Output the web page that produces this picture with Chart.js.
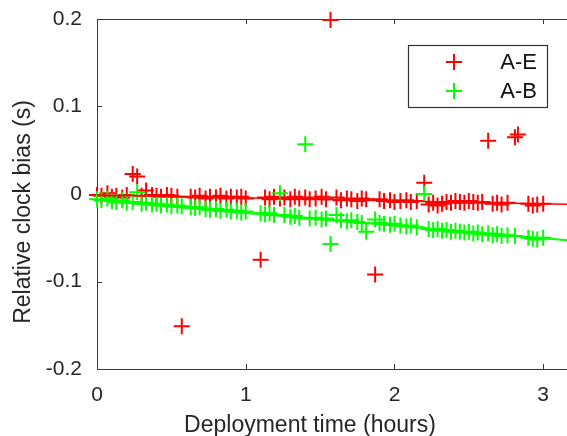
<!DOCTYPE html>
<html>
<head>
<meta charset="utf-8">
<script src="https://cdn.jsdelivr.net/npm/chart.js@4/dist/chart.umd.min.js"></script>
<style>
  html, body { margin: 0; padding: 0; background: #fff; overflow: hidden; }
  #wrap { width: 567px; height: 436px; }
</style>
</head>
<body>
<div id="wrap"><canvas id="biasChart" width="567" height="436"></canvas></div>
<script>
// deployment time of each sample (hours)
const times = [
  0.00, 0.03, 0.07, 0.10, 0.13, 0.17, 0.20, 0.24, 0.27, 0.30, 0.33, 0.37, 0.40, 0.43, 0.47, 0.50, 0.54, 0.57,
  0.63, 0.66, 0.69, 0.73, 0.76, 0.80, 0.83, 0.87, 0.90, 0.94, 0.97, 1.00,
  1.10, 1.13, 1.16, 1.19, 1.23, 1.26, 1.30, 1.33, 1.36, 1.40, 1.43, 1.47, 1.51, 1.54, 1.57, 1.61, 1.64, 1.68, 1.71, 1.75, 1.78, 1.81,
  1.87, 1.90, 1.93, 1.97, 2.00, 2.04, 2.08, 2.11, 2.15, 2.20, 2.23, 2.26, 2.29, 2.32, 2.35, 2.38, 2.41, 2.44, 2.47, 2.50, 2.53, 2.56, 2.59, 2.63, 2.66, 2.69, 2.72, 2.76,
  2.81, 2.83, 2.90, 2.93, 2.96, 3.00
];

// relative clock bias A-E (s)
const biasAE = [
  -0.001, -0.002, 0.001, -0.003, -0.002, -0.004, -0.001, 0.023, 0.020, -0.002, 0.004, -0.001, -0.002, -0.003, -0.001, -0.002, -0.003, -0.151,
  -0.003, -0.004, -0.002, -0.005, -0.003, -0.004, -0.002, -0.005, -0.003, -0.004, -0.003, -0.005,
  -0.075, -0.004, -0.006, -0.003, -0.005, -0.004, -0.006, -0.003, -0.005, -0.004, -0.006, -0.005, -0.003, -0.006, 0.199, -0.004, -0.007, -0.005, -0.006, -0.008, -0.005, -0.006,
  -0.092, -0.006, -0.008, -0.007, -0.009, -0.008, -0.007, -0.009, -0.008, 0.013, -0.012, -0.010, -0.013, -0.011, -0.009, -0.010, -0.008, -0.009, -0.010, -0.008, -0.009, -0.010, -0.009, 0.061, -0.011, -0.010, -0.012, -0.010,
  0.065, 0.068, -0.011, -0.013, -0.012, -0.011
];

// relative clock bias A-B (s)
const biasAB = [
  -0.006, -0.007, -0.005, -0.008, -0.009, -0.007, -0.010, -0.009, 0.002, -0.011, -0.010, -0.012, -0.011, -0.013, -0.012, -0.014, -0.013, -0.014,
  -0.015, -0.016, -0.015, -0.017, -0.018, -0.017, -0.019, -0.018, -0.020, -0.019, -0.021, -0.020,
  -0.022, -0.023, -0.022, -0.024, 0.001, -0.024, -0.026, -0.025, -0.027, 0.057, -0.028, -0.027, -0.029, -0.028, -0.057, -0.024, -0.030, -0.031, -0.030, -0.032, -0.033, -0.043,
  -0.029, -0.033, -0.034, -0.035, -0.034, -0.036, -0.037, -0.036, -0.038, 0.000, -0.040, -0.041, -0.040, -0.042, -0.041, -0.043, -0.042, -0.043, -0.044, -0.043, -0.045, -0.044, -0.046, -0.045, -0.047, -0.046, -0.048, -0.047,
  -0.048, null, -0.050, -0.051, -0.052, -0.050
];

// linear fits (end points)
const fitX = [0, 3.2];
const fitAE = [-0.001, -0.0118];
const fitAB = [-0.007, -0.0535];

const seriesLabels = ['A-E', 'A-B'];
const seriesColors = ['#ff0000', '#00ff00'];

const xTicks = [0, 1, 2, 3];
const yTicks = [-0.2, -0.1, 0, 0.1, 0.2];
const yTickLabels = ['-0.2', '-0.1', '0', '0.1', '0.2'];

const xTitle = 'Deployment time (hours)';
const yTitle = 'Relative clock bias (s)';

const FONT = '"Liberation Sans", Arial, sans-serif';
const AXIS = '#3a3a3a';

function toPoints(xs, ys) {
  return xs.map((x, i) => ({ x: x, y: ys[i] }));
}

// box round the plot with inward ticks, like the octave style
const boxPlugin = {
  id: 'box',
  beforeDatasetsDraw(chart) {
    const { ctx, chartArea: a, scales } = chart;
    ctx.save();
    ctx.strokeStyle = AXIS;
    ctx.lineWidth = 1;
    ctx.beginPath();
    ctx.moveTo(a.right + 2, a.top + 0.5);
    ctx.lineTo(a.left + 0.5, a.top + 0.5);
    ctx.lineTo(a.left + 0.5, a.bottom + 0.5);
    ctx.lineTo(a.right + 2, a.bottom + 0.5);
    xTicks.forEach(v => {
      const px = Math.round(scales.x.getPixelForValue(v)) + 0.5;
      ctx.moveTo(px, a.bottom);
      ctx.lineTo(px, a.bottom - 5);
      ctx.moveTo(px, a.top);
      ctx.lineTo(px, a.top + 5);
    });
    yTicks.forEach(v => {
      const py = Math.round(scales.y.getPixelForValue(v)) + 0.5;
      ctx.moveTo(a.left, py);
      ctx.lineTo(a.left + 5, py);
    });
    ctx.stroke();
    ctx.restore();
  },
  afterDraw(chart) {
    const ctx = chart.ctx;
    ctx.save();
    ctx.fillStyle = '#262626';

    // axis titles
    ctx.font = '23px ' + FONT;
    ctx.textAlign = 'center';
    ctx.textBaseline = 'alphabetic';
    ctx.fillText(xTitle, 310, 432);
    ctx.translate(30, 212);
    ctx.rotate(-Math.PI / 2);
    ctx.fillText(yTitle, 0, 0);
    ctx.setTransform(1, 0, 0, 1, 0, 0);

    // legend box
    ctx.fillStyle = '#fff';
    ctx.strokeStyle = '#333';
    ctx.lineWidth = 1.2;
    ctx.fillRect(408.5, 45.5, 139, 62);
    ctx.strokeRect(408.5, 45.5, 139, 62);
    ctx.font = '22px ' + FONT;
    ctx.textAlign = 'right';
    ctx.textBaseline = 'middle';
    seriesLabels.forEach((lbl, i) => {
      const cy = 62 + i * 29;
      ctx.strokeStyle = seriesColors[i];
      ctx.lineWidth = 2;
      ctx.beginPath();
      ctx.moveTo(446, cy); ctx.lineTo(462, cy);
      ctx.moveTo(454, cy - 8); ctx.lineTo(454, cy + 8);
      ctx.stroke();
      ctx.fillStyle = '#111';
      ctx.fillText(lbl, 537, cy + 1);
    });
    ctx.restore();
  }
};

new Chart(document.getElementById('biasChart'), {
  type: 'scatter',
  data: {
    datasets: [
      {
        label: seriesLabels[0],
        data: toPoints(times, biasAE),
        pointStyle: 'cross',
        pointRadius: 8,
        borderWidth: 2,
        borderColor: seriesColors[0],
        backgroundColor: seriesColors[0],
        clip: false,
        order: 3
      },
      {
        label: seriesLabels[1],
        data: toPoints(times, biasAB),
        pointStyle: 'cross',
        pointRadius: 8,
        borderWidth: 2,
        borderColor: seriesColors[1],
        backgroundColor: seriesColors[1],
        clip: false,
        order: 2
      },
      {
        type: 'line',
        data: toPoints(fitX, fitAE),
        borderColor: seriesColors[0],
        borderWidth: 1.5,
        pointRadius: 0,
        order: 1
      },
      {
        type: 'line',
        data: toPoints(fitX, fitAB),
        borderColor: seriesColors[1],
        borderWidth: 2,
        pointRadius: 0,
        order: 0
      }
    ]
  },
  options: {
    responsive: false,
    animation: false,
    devicePixelRatio: 1,
    // the plot runs off the right edge of the picture
    layout: { autoPadding: false, padding: { top: 19, right: 0, bottom: 0, left: 0 } },
    plugins: {
      legend: { display: false },
      tooltip: { enabled: false }
    },
    scales: {
      x: {
        type: 'linear',
        min: 0,
        max: 3.16,
        grid: { display: false, drawTicks: false },
        border: { display: false },
        afterBuildTicks: s => { s.ticks = xTicks.map(v => ({ value: v })); },
        afterFit: s => { s.height = 67; s.paddingLeft = 0; s.paddingRight = 0; },
        ticks: {
          padding: 14,
          color: '#262626',
          font: { family: FONT, size: 21 },
          callback: v => String(v)
        }
      },
      y: {
        type: 'linear',
        min: -0.2,
        max: 0.2,
        grid: { display: false, drawTicks: false },
        border: { display: false },
        afterBuildTicks: s => { s.ticks = yTicks.map(v => ({ value: v })); },
        afterFit: s => { s.width = 97; s.paddingTop = 0; s.paddingBottom = 0; },
        ticks: {
          padding: 15,
          color: '#262626',
          font: { family: FONT, size: 21 },
          callback: (v, i) => yTickLabels[i]
        }
      }
    }
  },
  plugins: [boxPlugin]
});
</script>
</body>
</html>
